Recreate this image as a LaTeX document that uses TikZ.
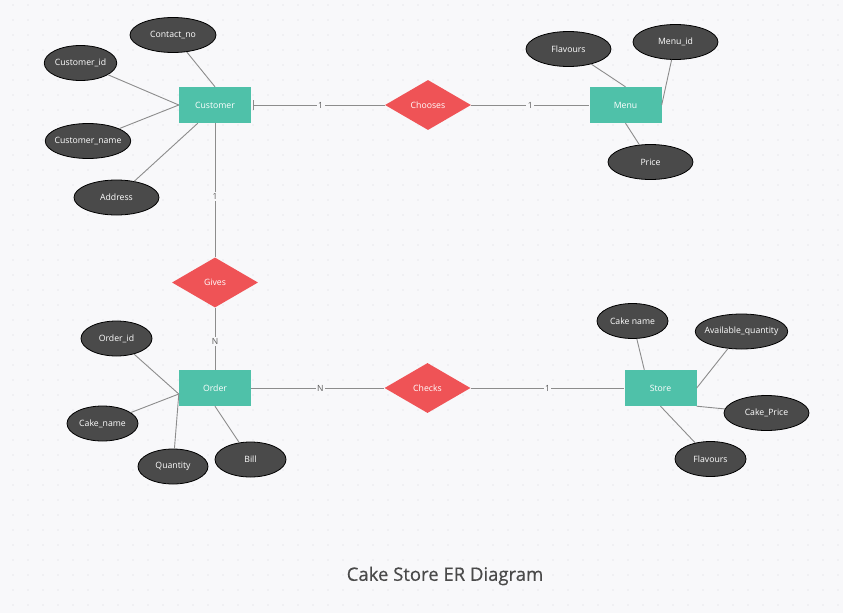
\documentclass[tikz,border=0pt]{standalone}
\usepackage{fontspec}
\setmainfont{Open Sans}
\newfontfamily\titlefont[FakeBold=0.5]{Open Sans}
\usetikzlibrary{shapes.geometric,arrows.meta}
\definecolor{bgc}{HTML}{F8F8FA}
\definecolor{dotc}{HTML}{D9D9DE}
\definecolor{entc}{HTML}{4FC1A9}
\definecolor{relc}{HTML}{EF5356}
\definecolor{attc}{HTML}{4A4A4A}
\definecolor{linec}{HTML}{8C8C8C}
\definecolor{titlec}{HTML}{4A4A4A}
\begin{document}
\begin{tikzpicture}[x=1pt,y=-1pt,
    txt/.style={text=white,font=\fontsize{8.7}{10}\selectfont},
    entity/.style={rectangle,fill=entc,minimum width=72pt,minimum height=36pt,inner sep=0pt,txt},
    rel/.style={diamond,fill=relc,minimum width=86pt,minimum height=50pt,aspect=1.72,inner sep=0pt,txt},
    attr/.style={ellipse,draw=black,line width=0.8pt,fill=attc,minimum width=85pt,minimum height=35pt,inner sep=0pt,txt},
    conn/.style={draw=linec,line width=0.9pt},
    card/.style={fill=bgc,inner sep=1.5pt,text=black!65,font=\fontsize{8.5}{9}\selectfont}]
        % background and dot grid
        \fill[bgc] (0,0) rectangle (843,613);
        \useasboundingbox (0,0) rectangle (843,613);
        \foreach \i in {0,...,56}
            \foreach \j in {0,...,40}
                \fill[dotc] (\i*15-2,\j*15+5) circle (0.7);
        % entities
        \node[entity] (cust) at (215,105) {Customer};
        \node[entity] (menu) at (625.5,105) {Menu};
        \node[entity] (order) at (215,388) {Order};
        \node[entity] (store) at (660.5,388) {Store};
        % relationships
        \node[rel] (choose) at (428,105) {Chooses};
        \node[rel] (gives) at (215,282.5) {Gives};
        \node[rel] (check) at (427.5,388) {Checks};
        % customer attributes
        \node[attr,minimum width=86pt] (cno) at (173,35) {Contact\_no};
        \node[attr,minimum width=71pt] (cid) at (80.5,63) {Customer\_id};
        \node[attr,inner xsep=-3.2pt] (cname) at (88,141) {Customer\_name};
        \node[attr] (addr) at (116.5,197.5) {Address};
        % menu attributes
        \node[attr] (mflav) at (568.5,49) {Flavours};
        \node[attr] (mid) at (675.5,42) {Menu\_id};
        \node[attr] (price) at (650.5,162) {Price};
        % order attributes
        \node[attr,minimum width=71pt] (oid) at (116.5,338.5) {Order\_id};
        \node[attr,minimum width=71pt] (cakename) at (102.5,423.5) {Cake\_name};
        \node[attr,minimum width=70pt] (qty) at (173,466.5) {Quantity};
        \node[attr,minimum width=71pt] (bill) at (250.5,459.5) {Bill};
        % store attributes
        \node[attr,minimum width=71pt] (sname) at (632.5,321) {Cake name};
        \node[attr,minimum width=90pt,inner xsep=-4.2pt] (avail) at (741.5,331.5) {Available\_quantity};
        \node[attr] (cprice) at (766.5,413) {Cake\_Price};
        \node[attr,minimum width=71pt] (sflav) at (710.5,459) {Flavours};
        % attribute lines
        \draw[conn] (cno) -- (cust.north);
        \draw[conn] (cid) -- (cust.west);
        \draw[conn] (cname) -- (cust.west);
        \draw[conn] (addr) -- ([xshift=19pt]cust.south west);
        \draw[conn] (mflav) -- (menu.north);
        \draw[conn] (mid) -- (menu.east);
        \draw[conn] (price) -- (menu.south);
        \draw[conn] (oid) -- ([yshift=-6pt]order.west);
        \draw[conn] (cakename) -- ([yshift=-6pt]order.west);
        \draw[conn] (qty) -- ([yshift=-6pt]order.west);
        \draw[conn] (bill) -- (order.south);
        \draw[conn] (sname) -- ([xshift=20pt]store.north west);
        \draw[conn] (avail) -- (store.east);
        \draw[conn] (cprice) -- (store.south east);
        \draw[conn] (sflav) -- (store.south);
        % relationship lines
        \draw[conn,{Bar[width=10pt,line width=0.9pt]}-,shorten <=2pt] (cust.east) -- node[card,pos=0.52] {1} (choose.west);
        \draw[conn] (choose.east) -- node[card,pos=0.5] {1} (menu.west);
        \draw[conn] (cust.south) -- node[card,pos=0.55] {1} (gives.north);
        \draw[conn] (gives.south) -- node[card,pos=0.54] {N} (order.north);
        \draw[conn] (order.east) -- node[card,pos=0.52] {N} (check.west);
        \draw[conn] (check.east) -- node[card,pos=0.5] {1} (store.west);
        % title
        \node[text=titlec,font=\titlefont\fontsize{18.5}{22}\selectfont] (title) at (445,576) {Cake Store ER Diagram};
    \end{tikzpicture}
\end{document}
